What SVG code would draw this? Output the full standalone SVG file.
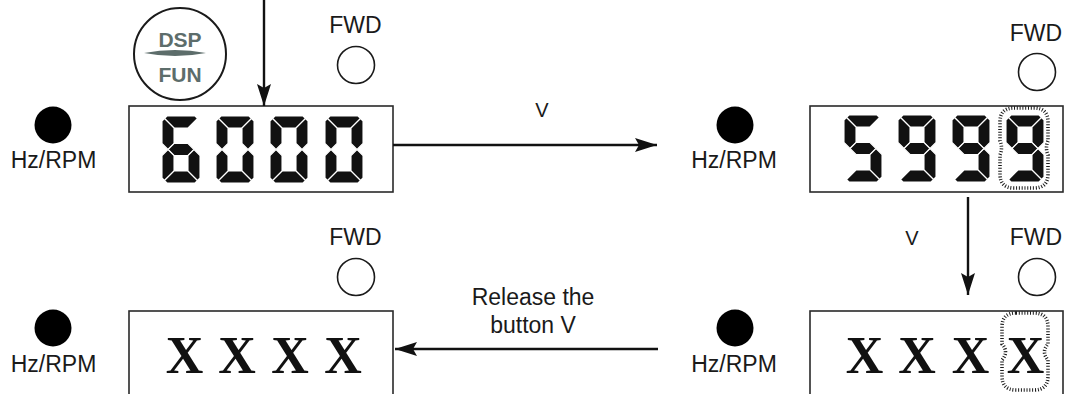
<svg xmlns="http://www.w3.org/2000/svg" xmlns:xlink="http://www.w3.org/1999/xlink" width="1066" height="394" viewBox="0 0 1066 394">
<style>
.lbl{font-family:"Liberation Sans",Arial,sans-serif;font-size:23px;fill:#1a1a1a;text-anchor:middle}
.box{fill:none;stroke:#2a2a2a;stroke-width:1.6}
.led{fill:#000}
.ring{fill:#fff;stroke:#1a1a1a;stroke-width:1.6}
.seg{fill:#111;stroke:#fff;stroke-width:1.1;stroke-linejoin:miter}
.dot{fill:none;stroke:#1a1a1a;stroke-width:3.6;stroke-dasharray:1 1.8}
.xx{font-family:"Liberation Serif","Times New Roman",serif;font-weight:bold;font-size:52px;fill:#111;text-anchor:middle}
.conn{fill:none;stroke:#111;stroke-width:2.4}
.dsp{font-family:"Liberation Sans",Arial,sans-serif;font-weight:bold;font-size:21px;fill:#5d6d6b;text-anchor:middle}
</style>
<defs>
<marker id="ah" viewBox="0 0 22 14" refX="22" refY="7" markerWidth="22" markerHeight="14" orient="auto" markerUnits="userSpaceOnUse">
<path d="M0,0 L22,7 L0,14 L4,7 Z" fill="#111"/>
</marker>
<polygon id="sa" points="2.5,2.5 5,0 33,0 35.5,2.5 26,12 12,12"/>
<polygon id="sf" points="2.5,2.5 12,12 12,27.5 6,33.5 0,27.5 0,5"/>
<polygon id="sg" points="6,33.5 12,27.5 26,27.5 32,33.5 26,39.5 12,39.5"/>
<polygon id="se" points="6,33.5 12,39.5 12,55 2.5,64.5 0,62 0,39.5"/>
<polygon id="sd" points="2.5,64.5 12,55 26,55 35.5,64.5 33,67 5,67"/>
<polygon id="sb" points="35.5,2.5 38,5 38,27.5 32,33.5 26,27.5 26,12"/>
<polygon id="sc" points="32,33.5 38,39.5 38,62 35.5,64.5 26,55 26,39.5"/>
<g id="d6"><use href="#sa"/><use href="#sf"/><use href="#sg"/><use href="#se"/><use href="#sd"/><use href="#sc"/></g>
<g id="d0"><use href="#sa"/><use href="#sb"/><use href="#sc"/><use href="#sd"/><use href="#se"/><use href="#sf"/></g>
<g id="d5"><use href="#sa"/><use href="#sf"/><use href="#sg"/><use href="#sc"/><use href="#sd"/></g>
<g id="d9"><use href="#sa"/><use href="#sb"/><use href="#sc"/><use href="#sd"/><use href="#sf"/><use href="#sg"/></g>
</defs>
<rect width="1066" height="394" fill="#fff"/>

<g id="dsp-button">
<circle cx="180" cy="54" r="46" fill="#fff" stroke="#1a1a1a" stroke-width="2"/>
<text class="dsp" x="180" y="47">DSP</text>
<path d="M144,53 Q175,47 206,53 Q175,59 144,53 Z" fill="#5d6d6b"/>
<text class="dsp" x="180" y="82">FUN</text>
</g>

<g id="panel-1">
<circle class="led" cx="53" cy="125" r="18.5"/>
<text class="lbl" x="53.5" y="168">Hz/RPM</text>
<text class="lbl" x="355.5" y="33">FWD</text>
<circle class="ring" cx="356" cy="65" r="18.5"/>
<rect class="box" x="129" y="106" width="264" height="86"/>
<g class="seg">
<use href="#d6" x="162" y="116"/>
<use href="#d0" x="216" y="116"/>
<use href="#d0" x="270" y="116"/>
<use href="#d0" x="325" y="116"/>
</g>
</g>

<g id="panel-2">
<circle class="led" cx="735" cy="125" r="18.5"/>
<text class="lbl" x="734" y="168">Hz/RPM</text>
<text class="lbl" x="1036" y="41">FWD</text>
<circle class="ring" cx="1037" cy="72" r="18.5"/>
<rect class="box" x="810" y="106" width="253" height="86"/>
<g class="seg">
<use href="#d5" x="844" y="115"/>
<use href="#d9" x="898" y="115"/>
<use href="#d9" x="952" y="115"/>
<use href="#d9" x="1006" y="115"/>
</g>
<path class="dot" d="M1014,108 H1034 Q1048,108 1048,122 V141 Q1045,148 1048,155 V174 Q1048,188 1034,188 H1014 Q1000,188 1000,174 V155 Q1003,148 1000,141 V122 Q1000,108 1014,108 Z"/>
</g>

<g id="panel-3">
<circle class="led" cx="735" cy="328" r="18.5"/>
<text class="lbl" x="734" y="372">Hz/RPM</text>
<text class="lbl" x="1036" y="245">FWD</text>
<circle class="ring" cx="1037" cy="277" r="18.5"/>
<rect class="box" x="810" y="311" width="253" height="100"/>
<text class="xx" x="864.5" y="373">X</text>
<text class="xx" x="917" y="373">X</text>
<text class="xx" x="970.5" y="373">X</text>
<text class="xx" x="1025.5" y="373">X</text>
<path class="dot" d="M1016,313 H1034 Q1048,313 1048,327 V344 Q1041,352 1048,360 V376 Q1048,390 1034,390 H1016 Q1002,390 1002,376 V360 Q1009,352 1002,344 V327 Q1002,313 1016,313 Z"/>
</g>

<g id="panel-4">
<circle class="led" cx="53" cy="328" r="18.5"/>
<text class="lbl" x="53.5" y="372">Hz/RPM</text>
<text class="lbl" x="355.5" y="245">FWD</text>
<circle class="ring" cx="356" cy="277" r="18.5"/>
<rect class="box" x="129" y="311" width="264" height="100"/>
<text class="xx" x="184.5" y="373">X</text>
<text class="xx" x="237" y="373">X</text>
<text class="xx" x="290" y="373">X</text>
<text class="xx" x="343" y="373">X</text>
</g>

<g id="connectors">
<path class="conn" d="M264,0 V106" marker-end="url(#ah)"/>
<path class="conn" d="M393,145 H657" marker-end="url(#ah)"/>
<path class="conn" d="M968,197 V295" marker-end="url(#ah)"/>
<path class="conn" d="M658,349 H395" marker-end="url(#ah)"/>
<text class="lbl" x="542" y="117" style="font-size:20px">V</text>
<text class="lbl" x="912" y="245" style="font-size:20px">V</text>
<text class="lbl" x="533" y="305" style="font-size:23px">Release the</text>
<text class="lbl" x="533" y="333" style="font-size:23px">button V</text>
</g>
</svg>
